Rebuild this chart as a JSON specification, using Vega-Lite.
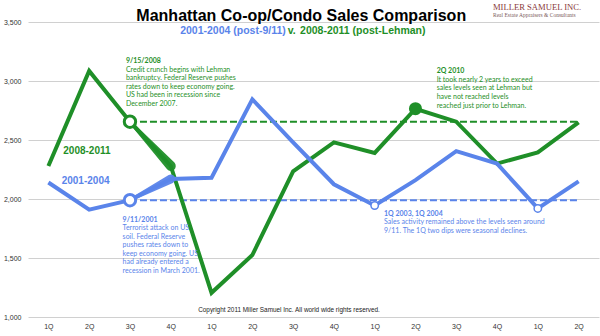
{
  "$schema": "https://vega.github.io/schema/vega-lite/v6.json",
  "width": 571,
  "height": 295,
  "autosize": "none",
  "padding": {"left": 28, "top": 22, "right": 1, "bottom": 19},
  "background": "white",
  "config": {"view": {"stroke": null}, "font": "Liberation Sans"},
  "datasets": {
    "main": [
      {"s": "g", "x": 0, "v": 2280}, {"s": "g", "x": 1, "v": 3085}, {"s": "g", "x": 2, "v": 2655}, {"s": "g", "x": 3, "v": 2280},
      {"s": "g", "x": 4, "v": 1205}, {"s": "g", "x": 5, "v": 1525}, {"s": "g", "x": 6, "v": 2235}, {"s": "g", "x": 7, "v": 2480},
      {"s": "g", "x": 8, "v": 2390}, {"s": "g", "x": 9, "v": 2765}, {"s": "g", "x": 10, "v": 2655}, {"s": "g", "x": 11, "v": 2300},
      {"s": "g", "x": 12, "v": 2395}, {"s": "g", "x": 13, "v": 2650},
      {"s": "b", "x": 0, "v": 2140}, {"s": "b", "x": 1, "v": 1910}, {"s": "b", "x": 2, "v": 1990}, {"s": "b", "x": 3, "v": 2170},
      {"s": "b", "x": 4, "v": 2180}, {"s": "b", "x": 5, "v": 2845}, {"s": "b", "x": 6, "v": 2480}, {"s": "b", "x": 7, "v": 2125},
      {"s": "b", "x": 8, "v": 1945}, {"s": "b", "x": 9, "v": 2160}, {"s": "b", "x": 10, "v": 2405}, {"s": "b", "x": 11, "v": 2300},
      {"s": "b", "x": 12, "v": 1920}, {"s": "b", "x": 13, "v": 2150}
    ],
    "dash": [
      {"s": "g", "x": 2, "v": 2655}, {"s": "g", "x": 13, "v": 2655},
      {"s": "b", "x": 2, "v": 1990}, {"s": "b", "x": 13, "v": 1990}
    ],
    "wedge": [
      {"s": "g", "x": 2, "v": 2655, "w": 3}, {"s": "g", "x": 3, "v": 2280, "w": 10},
      {"s": "b", "x": 2, "v": 1990, "w": 3}, {"s": "b", "x": 3, "v": 2170, "w": 9}
    ],
    "notes": [
      {"s": "g", "x": 1.9, "v": 3151, "head": "9/15/2008", "body": "Credit crunch begins with Lehman\nbankruptcy.  Federal Reserve pushes\nrates down to keep economy going.\nUS had been in recession since\nDecember 2007."},
      {"s": "g", "x": 9.52, "v": 3066, "head": "2Q 2010", "body": "It took nearly 2 years to exceed\nsales levels seen at Lehman but\nhave not reached levels\nreached just prior to Lehman."},
      {"s": "b", "x": 1.82, "v": 1809, "head": "9/11/2001", "body": "Terrorist attack on US\nsoil. Federal Reserve\npushes rates down to\nkeep economy going.  US\nhad already entered a\nrecession in March 2001."},
      {"s": "b", "x": 8.23, "v": 1858, "head": "1Q 2003, 1Q 2004", "body": "Sales activity remained above the levels seen around\n9/11.  The 1Q two dips were seasonal declines."}
    ]
  },
  "encoding": {
    "x": {"field": "x", "type": "quantitative",
      "scale": {"domain": [-0.5, 13.5], "nice": false, "zero": false},
      "axis": {"values": [0,1,2,3,4,5,6,7,8,9,10,11,12,13], "labelExpr": "['1Q','2Q','3Q','4Q'][datum.value % 4]",
        "grid": false, "domain": false, "ticks": false, "labelFontSize": 7, "labelColor": "#333", "labelPadding": 5, "title": null}},
    "y": {"field": "v", "type": "quantitative",
      "scale": {"domain": [1000, 3500], "nice": false, "zero": false},
      "axis": {"values": [1000,1500,2000,2500,3000,3500], "format": ",.0f", "grid": true, "gridColor": "#d0d0d0",
        "domain": false, "ticks": false, "labelFontSize": 7, "labelColor": "#333", "labelPadding": 7, "title": null}}
  },
  "layer": [
    {
      "data": {"name": "dash"},
      "mark": {"type": "line", "strokeDash": [7, 3], "strokeWidth": 2},
      "encoding": {"color": {"field": "s", "type": "nominal", "scale": {"domain": ["g", "b"], "range": ["#1f8f28", "#5a84ea"]}, "legend": null}}
    },
    {
      "data": {"name": "main"},
      "mark": {"type": "line", "strokeWidth": 4, "strokeJoin": "miter"},
      "encoding": {"color": {"field": "s", "type": "nominal", "legend": null}}
    },
    {
      "data": {"name": "wedge"},
      "mark": {"type": "trail", "opacity": 0.95},
      "encoding": {
        "color": {"field": "s", "type": "nominal", "legend": null},
        "size": {"field": "w", "type": "quantitative", "scale": null}
      }
    },
    {
      "data": {"values": [{"s": "g", "x": 2, "v": 2655}, {"s": "b", "x": 2, "v": 1990}]},
      "mark": {"type": "point", "shape": "circle", "fill": "white", "filled": false, "strokeWidth": 3, "size": 130, "opacity": 1, "fillOpacity": 1},
      "encoding": {"stroke": {"field": "s", "type": "nominal", "scale": {"domain": ["g", "b"], "range": ["#1f8f28", "#5a84ea"]}, "legend": null}}
    },
    {
      "data": {"values": [{"x": 9, "v": 2765}]},
      "mark": {"type": "circle", "size": 170, "color": "#1f8f28", "opacity": 1}
    },
    {
      "data": {"values": [{"x": 8, "v": 1945}, {"x": 12, "v": 1920}]},
      "mark": {"type": "point", "shape": "circle", "fill": "white", "stroke": "#5a84ea", "strokeWidth": 1.5, "size": 55, "opacity": 1, "fillOpacity": 1}
    },
    {
      "data": {"values": [{"x": 6.2, "v": 3511, "t": "Manhattan Co-op/Condo Sales Comparison"}]},
      "mark": {"type": "text", "font": "Liberation Sans", "fontWeight": "bold", "fontSize": 16, "color": "#000", "align": "center", "baseline": "alphabetic"},
      "encoding": {"text": {"field": "t"}}
    },
    {
      "data": {"values": [
        {"s": "b", "x": 3.23, "v": 3400, "t": "2001-2004 (post-9/11)"},
        {"s": "k", "x": 5.87, "v": 3400, "t": "v."},
        {"s": "g", "x": 6.17, "v": 3400, "t": "2008-2011 (post-Lehman)"}
      ]},
      "mark": {"type": "text", "font": "Liberation Sans", "fontWeight": "bold", "fontSize": 10.5, "align": "left", "baseline": "alphabetic"},
      "encoding": {"text": {"field": "t"},
        "color": {"field": "s", "type": "nominal", "scale": {"domain": ["g", "b", "k"], "range": ["#1f8f28", "#5a84ea", "#111111"]}, "legend": null}}
    },
    {
      "data": {"values": [
        {"s": "g", "x": 0.365, "v": 2379, "t": "2008-2011"},
        {"s": "b", "x": 0.326, "v": 2129, "t": "2001-2004"}
      ]},
      "mark": {"type": "text", "font": "Liberation Sans", "fontWeight": "bold", "fontSize": 10, "align": "left", "baseline": "alphabetic"},
      "encoding": {"text": {"field": "t"}, "color": {"field": "s", "type": "nominal", "legend": null}}
    },
    {
      "data": {"name": "notes"},
      "mark": {"type": "text", "font": "Lato", "fontWeight": "bold", "fontSize": 7, "align": "left", "baseline": "alphabetic"},
      "encoding": {"text": {"field": "head"}, "color": {"field": "s", "type": "nominal", "legend": null}}
    },
    {
      "data": {"name": "notes"},
      "mark": {"type": "text", "font": "Lato", "fontSize": 7, "align": "left", "baseline": "alphabetic", "dy": 8.5, "lineBreak": "\n", "lineHeight": 8.6},
      "encoding": {"text": {"field": "body"}, "color": {"field": "s", "type": "nominal", "legend": null}}
    },
    {
      "data": {"values": [{"x": 5.9, "v": 1040, "t": "Copyright 2011 Miller Samuel Inc.  All world wide rights reserved."}]},
      "mark": {"type": "text", "font": "Liberation Sans", "fontSize": 6.4, "color": "#222", "align": "center", "baseline": "alphabetic"},
      "encoding": {"text": {"field": "t"}}
    },
    {
      "data": {"values": [{"x": 10.9, "v": 3603, "t": "MILLER SAMUEL INC."}]},
      "mark": {"type": "text", "font": "Liberation Serif", "fontSize": 8.6, "color": "#8a3a3a", "align": "left", "baseline": "alphabetic"},
      "encoding": {"text": {"field": "t"}}
    },
    {
      "data": {"values": [{"x": 10.9, "v": 3544, "t": "Real Estate Appraisers & Consultants"}]},
      "mark": {"type": "text", "font": "Liberation Serif", "fontSize": 5.5, "color": "#7a5a5a", "align": "left", "baseline": "alphabetic"},
      "encoding": {"text": {"field": "t"}}
    }
  ]
}
